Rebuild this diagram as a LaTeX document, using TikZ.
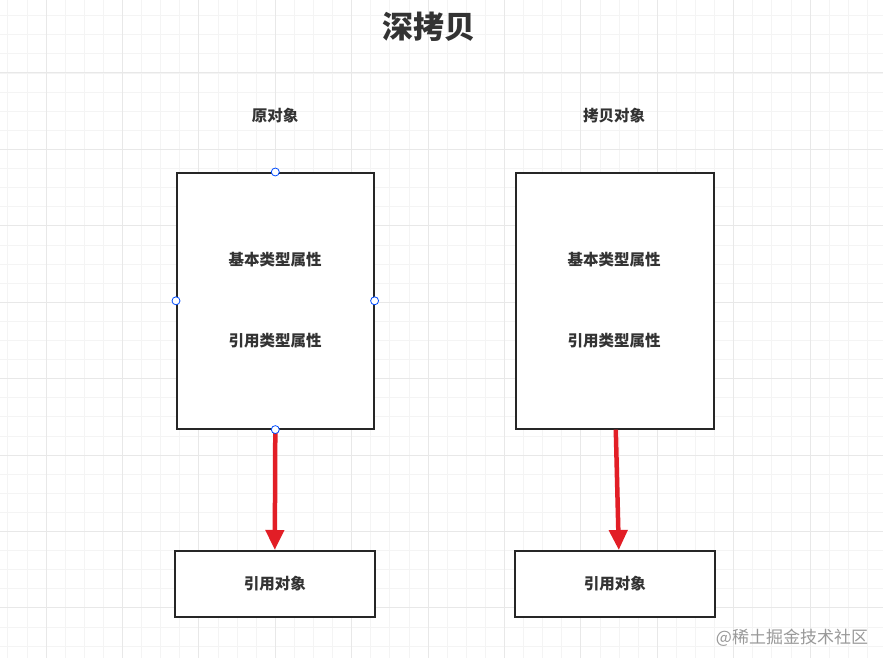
\documentclass[tikz,border=0pt]{standalone}
\usepackage{fontspec}
\setmainfont{Noto Sans CJK SC}
\usetikzlibrary{arrows.meta}
\definecolor{gminor}{RGB}{244,244,244}
\definecolor{gmajor}{RGB}{232,232,232}
\definecolor{arr}{RGB}{226,30,38}
\begin{document}
\begin{tikzpicture}[x=1pt,y=-1pt,
  box/.style={draw=black!85,line width=1.6pt,fill=white},
  lbl/.style={font=\bfseries\fontsize{15.5}{18}\selectfont,text=black!80},
  red arrow/.style={draw=arr,line width=4.5pt,-{Triangle[length=20pt,width=18pt]}},
  handle/.style={circle,draw=blue!70!cyan,fill=white,inner sep=0pt,minimum size=8pt,line width=0.8pt}]
\useasboundingbox (0,0) rectangle (883,658);
\fill[white] (0,0) rectangle (883,658);
\foreach \i in {0,...,46} {
  \draw[gminor,line width=0.8pt] ({7.8+19.1*\i},0) -- ({7.8+19.1*\i},658);
  \draw[gminor,line width=0.8pt] (0,{-3.4+19.1*\i}) -- (883,{-3.4+19.1*\i});
}
\foreach \i in {0,...,12} {
  \draw[gmajor,line width=1pt] ({46+76.4*\i},0) -- ({46+76.4*\i},658);
  \draw[gmajor,line width=1pt] (0,{73+76.4*\i}) -- (883,{73+76.4*\i});
}
\node[font=\bfseries\fontsize{31}{34}\selectfont,text=black!80] (title) at (429,27) {深拷贝};
\node[lbl] (l1) at (275,116) {原对象};
\node[lbl] (l2) at (614,116) {拷贝对象};
\node[box,minimum width=197pt,minimum height=256pt,anchor=north west] (A) at (176,172) {};
\node[box,minimum width=198pt,minimum height=256pt,anchor=north west] (B) at (515,172) {};
\node[lbl] (a1) at (275,260) {基本类型属性};
\node[lbl] (a2) at (275,341) {引用类型属性};
\node[lbl] (b1) at (614,260) {基本类型属性};
\node[lbl] (b2) at (614,341) {引用类型属性};
\node[box,minimum width=200pt,minimum height=66pt,anchor=north west] (C) at (174,550) {};
\node[box,minimum width=200pt,minimum height=66pt,anchor=north west] (D) at (514,550) {};
\node[lbl] at (C.center) {引用对象};
\node[lbl] at (D.center) {引用对象};
\draw[red arrow] (A.south) -- (C.north);
\draw[red arrow] ([xshift=1pt]B.south) -- ([xshift=4pt]D.north);
\node[handle] at (A.north) {};
\node[handle] at (A.west) {};
\node[handle] at (A.east) {};
\node[handle] at (A.south) {};
\node[font=\fontsize{17}{20}\selectfont,text=black!40] (wm) at (792,638) {@稀土掘金技术社区};
\end{tikzpicture}
\end{document}
